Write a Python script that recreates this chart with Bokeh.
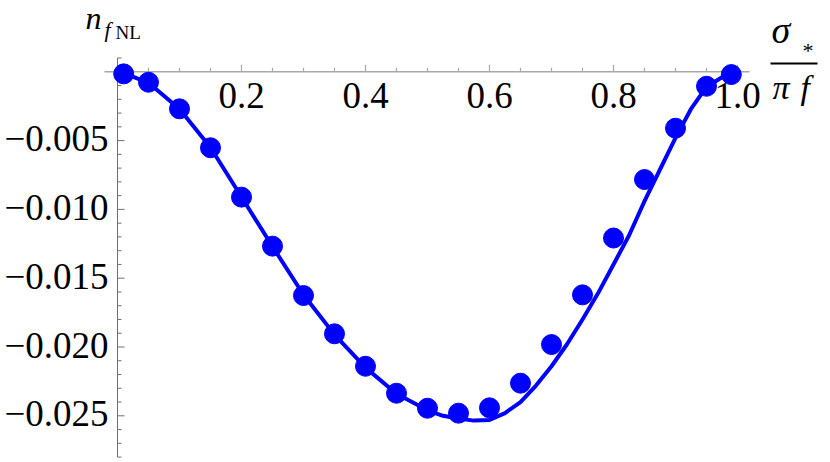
import numpy as np
from bokeh.plotting import figure
from bokeh.models import Range1d
from bokeh.core.properties import value
from bokeh.embed import file_html
from bokeh.resources import INLINE

# ---------------- data ----------------
pt_x = [0.01, 0.05, 0.10, 0.15, 0.20, 0.25, 0.30, 0.35, 0.40, 0.45, 0.50,
        0.55, 0.60, 0.65, 0.70, 0.75, 0.80, 0.85, 0.90, 0.95, 0.99]
pt_y = [-0.00015, -0.00076, -0.00269, -0.00552, -0.00911, -0.01267, -0.01626,
        -0.01904, -0.02140, -0.02336, -0.02445, -0.02481, -0.02442, -0.02263,
        -0.01982, -0.01621, -0.01208, -0.00783, -0.00410, -0.00105, -0.00020]

curve_x = [0.01, 0.05, 0.10, 0.15, 0.20, 0.25, 0.30, 0.35, 0.40, 0.45, 0.50,
           0.525, 0.55, 0.575, 0.60, 0.625, 0.65, 0.675, 0.70, 0.725, 0.75,
           0.775, 0.80, 0.825, 0.85, 0.875, 0.90, 0.925, 0.95, 0.975, 0.99]
curve_y = [-0.0001, -0.0008, -0.0027, -0.0055, -0.0091, -0.0127, -0.0162,
           -0.0191, -0.0215, -0.0234, -0.0246, -0.0250, -0.0252, -0.02535,
           -0.0253, -0.0248, -0.0240, -0.0228, -0.0214, -0.0198, -0.0180,
           -0.0161, -0.0140, -0.0119, -0.0094, -0.0071, -0.0048, -0.0027,
           -0.0011, -0.0004, -0.0002]

x_major = [0.2, 0.4, 0.6, 0.8, 1.0]
x_labels = ["0.2", "0.4", "0.6", "0.8", "1.0"]
y_major = [-0.005, -0.010, -0.015, -0.020, -0.025]
y_labels = ["\u22120.005", "\u22120.010", "\u22120.015", "\u22120.020", "\u22120.025"]

# ---------------- layout constants ----------------
W, H = 826, 458
ORIGIN = 0                              # image pixel where the figure starts
X0_IMG, PX_PER_X = 117.0, 620.0        # image pixel of x=0, px per unit x
Y0_IMG, PX_PER_Y = 71.3, 13760.0       # image pixel of y=0, px per unit y
BASE_CORR = 0.32                        # empirical baseline correction (em)

def px2x(px):
    return (px - X0_IMG) / PX_PER_X

def py2y(py):
    return -(py - Y0_IMG) / PX_PER_Y

x_start, x_end = px2x(ORIGIN), px2x(ORIGIN + W)
y_end, y_start = py2y(ORIGIN), py2y(ORIGIN + H)

BLUE = "#0000ff"
AXIS_X = "#a8a8a8"
AXIS_Y = "#707070"
SERIF = value("Liberation Serif")

p = figure(width=W, height=H, x_range=Range1d(x_start, x_end),
           y_range=Range1d(y_start, y_end), output_backend="svg",
           toolbar_location=None, min_border=0,
           x_axis_location=None, y_axis_location=None)
p.grid.visible = False
p.outline_line_color = None
p.background_fill_color = "white"
p.border_fill_color = "white"

# axes lines
p.segment(x0=[px2x(104)], y0=[0], x1=[px2x(749)], y1=[0],
          line_color=AXIS_X, line_width=1.4)
p.segment(x0=[0], y0=[0.001], x1=[0], y1=[-0.028],
          line_color=AXIS_Y, line_width=1.0)

# ticks
x_minor = [round(0.05 * k, 2) for k in range(1, 21)]
x_minor = [v for v in x_minor if all(abs(v - m) > 1e-9 for m in x_major)]
y_minor = [round(-0.001 * k, 3) for k in range(-1, 29)]
y_minor = [v for v in y_minor if v != 0 and all(abs(v - m) > 1e-9 for m in y_major)]

p.ray(x=x_major, y=[0] * len(x_major), length=7, length_units="screen",
      angle=np.pi / 2, line_color=AXIS_X, line_width=1.2)
p.ray(x=x_minor, y=[0] * len(x_minor), length=4, length_units="screen",
      angle=np.pi / 2, line_color=AXIS_X, line_width=1.2)
p.ray(x=[0] * len(y_major), y=y_major, length=7, length_units="screen",
      angle=0, line_color=AXIS_Y, line_width=1.0)
p.ray(x=[0] * len(y_minor), y=y_minor, length=4, length_units="screen",
      angle=0, line_color=AXIS_Y, line_width=1.0)

TICK_FS = 37
# tick labels
p.text(x=x_major, y=[0] * len(x_major), text=x_labels, text_align="center",
       text_baseline="alphabetic", y_offset=35.5 - BASE_CORR * TICK_FS,
       text_font=SERIF, text_font_size=f"{TICK_FS}px", text_color="black")
p.text(x=[0] * len(y_major), y=y_major, text=y_labels, text_align="right",
       text_baseline="alphabetic", x_offset=-9, y_offset=10 - BASE_CORR * TICK_FS,
       text_font=SERIF, text_font_size=f"{TICK_FS}px", text_color="black")

# data
p.line(curve_x, curve_y, line_width=4, line_color=BLUE)
p.scatter(pt_x, pt_y, size=20, fill_color=BLUE, line_color=BLUE)


def label(px, py, s, fs, italic=False):
    p.text(x=[px2x(px)], y=[py2y(py - BASE_CORR * fs)], text=[s], text_font=SERIF,
           text_font_style="italic" if italic else "normal",
           text_font_size=f"{fs}px", text_baseline="alphabetic", text_color="black")


# y axis label n_{f_NL}
label(85, 28, "n", 32, italic=True)
label(104, 36, "f", 22, italic=True)
label(115, 38.5, "NL", 19)

# x axis label sigma_* / (pi f)
label(771, 42, "\u03c3", 38, italic=True)
label(802, 57, "*", 22)
p.segment(x0=[px2x(770)], y0=[py2y(63)], x1=[px2x(817)], y1=[py2y(63)],
          line_color="black", line_width=2)
label(772, 98, "\u03c0", 34, italic=True)
label(800, 98, "f", 34, italic=True)

open("out.html", "w").write(file_html(p, INLINE))
